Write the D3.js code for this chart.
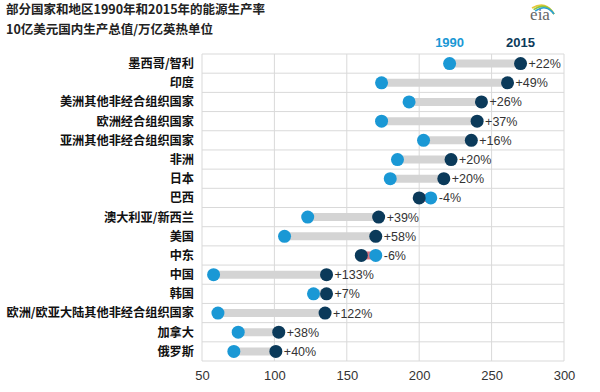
<!DOCTYPE html>
<meta charset="utf-8">
<style>
body { margin: 0; background: #fff; }
text { font-family: "Noto Sans CJK SC", "Liberation Sans", Arial, sans-serif; }
.title { font-size: 12.5px; font-weight: bold; fill: #222; }
.cat { font-size: 12.2px; font-weight: bold; fill: #111; }
.pct { font-family: "Liberation Sans", Arial, sans-serif; font-size: 12.5px; fill: #333; }
.axis text { font-family: "Liberation Sans", Arial, sans-serif; font-size: 13px; fill: #333; }
.grid line { stroke: #d9d9d9; }
</style>
<svg width="600" height="392"></svg>
<script src="https://d3js.org/d3.v7.min.js"></script>
<script>
var regions = ["墨西哥/智利", "印度", "美洲其他非经合组织国家", "欧洲经合组织国家", "亚洲其他非经合组织国家",
  "非洲", "日本", "巴西", "澳大利亚/新西兰", "美国", "中东", "中国", "韩国",
  "欧洲/欧亚大陆其他非经合组织国家", "加拿大", "俄罗斯"];
var v1990 = [221, 174, 193, 174, 203, 185, 180, 208, 123, 107, 170, 58, 127, 61, 75, 72];
var v2015 = [270, 261, 243, 240, 236, 222, 217, 200, 172, 170, 160, 136, 136, 135, 103, 101];
var changes = ["+22%", "+49%", "+26%", "+37%", "+16%", "+20%", "+20%", "-4%", "+39%", "+58%", "-6%",
  "+133%", "+7%", "+122%", "+38%", "+40%"];
var xTicks = [50, 100, 150, 200, 250, 300];

var svg = d3.select("svg"),
    margin = {top: 54, right: 36, bottom: 31, left: 202},
    width = 600 - margin.left - margin.right,
    height = 392 - margin.top - margin.bottom;

var x = d3.scaleLinear().domain([50, 300]).range([0, width]);
var y = d3.scaleBand().domain(regions).range([0, height]);

var c1990 = "#1a98d5", c2015 = "#0b3a5a";

svg.append("text").attr("class", "title").attr("x", 6).attr("y", 14)
    .text("部分国家和地区1990年和2015年的能源生产率");
svg.append("text").attr("class", "title").attr("x", 6).attr("y", 34)
    .text("10亿美元国内生产总值/万亿英热单位");

// eia logo
var logo = svg.append("g").attr("transform", "translate(540,16)");
logo.append("text").attr("x", 0).attr("y", 4).attr("text-anchor", "middle")
    .style("font-family", "Liberation Serif, serif").style("font-size", "17px").style("fill", "#666")
    .text("eia");
[["#e8c83a", 0], ["#8cc63f", 1.6], ["#2a9fd6", 3.2]].forEach(function(a) {
  logo.append("path").attr("d", "M" + (-8 + a[1]) + "," + (-8 + a[1]) + " Q6," + (-16 + a[1]) + " 14," + (-2))
      .attr("fill", "none").attr("stroke", a[0]).attr("stroke-width", 1.6);
});

var g = svg.append("g").attr("transform", "translate(" + margin.left + "," + margin.top + ")");

// grid
var grid = g.append("g").attr("class", "grid");
grid.selectAll(".v").data(xTicks).enter().append("line")
    .attr("x1", function(d) { return x(d); }).attr("x2", function(d) { return x(d); })
    .attr("y1", 0).attr("y2", height);
grid.selectAll(".h").data(d3.range(regions.length + 1)).enter().append("line")
    .attr("x1", 0).attr("x2", width)
    .attr("y1", function(i) { return i * y.step(); }).attr("y2", function(i) { return i * y.step(); });

// legend
svg.append("text").attr("x", margin.left + x(221)).attr("y", 47).attr("text-anchor", "middle")
    .style("font-family", "Liberation Sans, Arial").style("font-size", "13px").style("font-weight", "bold")
    .style("fill", c1990).text("1990");
svg.append("text").attr("x", margin.left + x(270)).attr("y", 47).attr("text-anchor", "middle")
    .style("font-family", "Liberation Sans, Arial").style("font-size", "13px").style("font-weight", "bold")
    .style("fill", c2015).text("2015");

var rows = g.selectAll(".row").data(regions).enter().append("g")
    .attr("transform", function(d) { return "translate(0," + (y(d) + y.bandwidth() / 2) + ")"; });

rows.append("line")
    .attr("x1", function(d, i) { return x(v1990[i]); })
    .attr("x2", function(d, i) { return x(v2015[i]); })
    .attr("stroke", function(d, i) { return v2015[i] < v1990[i] ? "#d9727f" : "#d4d4d4"; })
    .attr("stroke-width", 8);

rows.append("circle").attr("r", 6.5).attr("cx", function(d, i) { return x(v1990[i]); }).attr("fill", c1990);
rows.append("circle").attr("r", 6.5).attr("cx", function(d, i) { return x(v2015[i]); }).attr("fill", c2015);

rows.append("text").attr("class", "pct")
    .attr("x", function(d, i) { return x(Math.max(v1990[i], v2015[i])) + 8; })
    .attr("dy", "0.36em")
    .text(function(d, i) { return changes[i]; });

rows.append("text").attr("class", "cat").attr("x", -8).attr("dy", "0.36em").attr("text-anchor", "end")
    .text(function(d) { return d; });

// axis
var ax = g.append("g").attr("class", "axis").attr("transform", "translate(0," + height + ")")
    .call(d3.axisBottom(x).tickValues(xTicks).tickSize(0).tickPadding(10));
ax.select(".domain").remove();
</script>
